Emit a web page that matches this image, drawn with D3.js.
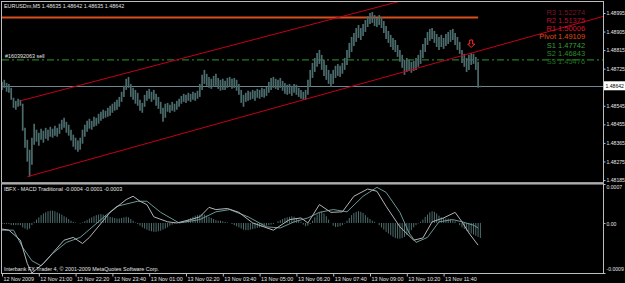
<!DOCTYPE html>
<html>
<head>
<meta charset="utf-8">
<script src="https://cdn.jsdelivr.net/npm/d3@7"></script>
<style>
body { margin: 0; background: #000; }
svg { display: block; }
</style>
</head>
<body>
<div id="chart"></div>
<script>
// price bars (M5), highs and lows
var barHigh = [1.48661,1.48671,1.48656,1.48651,1.48632,1.48584,1.48569,1.48579,1.48574,1.48555,
1.48438,1.48380,1.48332,1.48390,1.48458,1.48429,1.48414,1.48434,1.48424,1.48438,
1.48429,1.48443,1.48434,1.48448,1.48438,1.48458,1.48477,1.48487,1.48467,1.48453,
1.48429,1.48405,1.48390,1.48376,1.48390,1.48429,1.48453,1.48472,1.48482,1.48472,
1.48492,1.48487,1.48506,1.48516,1.48526,1.48521,1.48535,1.48545,1.48555,1.48564,
1.48574,1.48588,1.48613,1.48642,1.48676,1.48685,1.48651,1.48632,1.48622,1.48608,
1.48574,1.48559,1.48598,1.48618,1.48627,1.48613,1.48622,1.48603,1.48588,1.48564,
1.48535,1.48555,1.48559,1.48550,1.48564,1.48555,1.48569,1.48579,1.48593,1.48603,
1.48598,1.48608,1.48603,1.48613,1.48608,1.48618,1.48651,1.48695,1.48719,1.48700,
1.48685,1.48676,1.48690,1.48700,1.48680,1.48671,1.48676,1.48666,1.48680,1.48685,
1.48676,1.48680,1.48671,1.48651,1.48622,1.48598,1.48608,1.48618,1.48613,1.48622,
1.48618,1.48627,1.48622,1.48632,1.48627,1.48637,1.48661,1.48680,1.48685,1.48676,
1.48671,1.48680,1.48666,1.48656,1.48647,1.48651,1.48642,1.48651,1.48647,1.48632,
1.48622,1.48613,1.48622,1.48671,1.48719,1.48753,1.48777,1.48801,1.48816,1.48792,
1.48768,1.48743,1.48719,1.48700,1.48719,1.48739,1.48748,1.48739,1.48753,1.48777,
1.48816,1.48850,1.48879,1.48898,1.48922,1.48937,1.48922,1.48942,1.48961,1.48980,
1.48995,1.49000,1.48985,1.48971,1.48985,1.48976,1.48956,1.48932,1.48908,1.48889,
1.48874,1.48864,1.48840,1.48816,1.48792,1.48768,1.48777,1.48768,1.48758,1.48763,
1.48777,1.48792,1.48816,1.48845,1.48874,1.48903,1.48918,1.48922,1.48908,1.48893,
1.48879,1.48889,1.48874,1.48893,1.48903,1.48913,1.48918,1.48898,1.48879,1.48855,
1.48816,1.48797,1.48777,1.48792,1.48801,1.48797,1.48782,1.48758,1.48642];

var barLow = [1.48622,1.48632,1.48613,1.48608,1.48574,1.48535,1.48526,1.48540,1.48545,1.48424,
1.48342,1.48274,1.48201,1.48259,1.48356,1.48371,1.48351,1.48380,1.48366,1.48385,
1.48376,1.48395,1.48390,1.48400,1.48395,1.48409,1.48429,1.48438,1.48414,1.48400,
1.48376,1.48346,1.48332,1.48322,1.48332,1.48361,1.48395,1.48419,1.48434,1.48429,
1.48443,1.48448,1.48458,1.48472,1.48482,1.48487,1.48492,1.48497,1.48511,1.48521,
1.48526,1.48540,1.48564,1.48588,1.48622,1.48632,1.48588,1.48574,1.48555,1.48545,
1.48521,1.48511,1.48540,1.48569,1.48579,1.48564,1.48574,1.48545,1.48530,1.48506,
1.48467,1.48487,1.48516,1.48511,1.48521,1.48516,1.48526,1.48540,1.48555,1.48564,
1.48559,1.48569,1.48564,1.48574,1.48569,1.48579,1.48588,1.48622,1.48651,1.48642,
1.48632,1.48627,1.48637,1.48642,1.48627,1.48618,1.48622,1.48622,1.48632,1.48637,
1.48627,1.48632,1.48618,1.48598,1.48559,1.48540,1.48564,1.48569,1.48574,1.48579,
1.48569,1.48584,1.48579,1.48588,1.48584,1.48593,1.48608,1.48622,1.48632,1.48627,
1.48622,1.48632,1.48618,1.48603,1.48598,1.48603,1.48593,1.48608,1.48598,1.48588,
1.48579,1.48574,1.48574,1.48598,1.48637,1.48680,1.48709,1.48734,1.48748,1.48719,
1.48690,1.48671,1.48651,1.48637,1.48651,1.48680,1.48690,1.48685,1.48700,1.48719,
1.48743,1.48777,1.48806,1.48835,1.48855,1.48874,1.48864,1.48884,1.48903,1.48927,
1.48942,1.48947,1.48932,1.48927,1.48937,1.48922,1.48898,1.48869,1.48850,1.48830,
1.48816,1.48806,1.48782,1.48758,1.48729,1.48695,1.48709,1.48714,1.48705,1.48714,
1.48719,1.48734,1.48748,1.48777,1.48806,1.48840,1.48860,1.48869,1.48850,1.48830,
1.48816,1.48830,1.48821,1.48835,1.48845,1.48855,1.48864,1.48840,1.48816,1.48797,
1.48753,1.48734,1.48709,1.48719,1.48743,1.48748,1.48719,1.48632,1.48635];

// MACD histogram, one value per bar
var macdHist = [-0.00002,-0.00002,-0.00002,-0.00002,-0.00004,-0.00004,-0.00004,-0.00004,-0.00004,
-0.00008,-0.00010,-0.00012,-0.00010,-0.00004,0.00002,
0.00006,0.00010,0.00014,0.00017,0.00019,0.00021,0.00022,0.00022,0.00021,0.00019,0.00017,0.00015,0.00012,0.00010,
0.00007,0.00004,0.00002,0.00001,0.00000,-0.00001,0.00001,0.00003,0.00005,
0.00008,0.00010,0.00012,0.00014,0.00015,0.00016,0.00015,0.00014,0.00013,0.00011,
0.00010,0.00009,0.00008,0.00008,0.00009,0.00010,0.00011,0.00010,0.00007,0.00004,
0.00001,-0.00002,-0.00005,
-0.00008,-0.00010,-0.00012,-0.00014,-0.00015,-0.00016,-0.00016,-0.00015,-0.00014,-0.00012,-0.00010,-0.00008,-0.00005,-0.00003,
-0.00001,0.00000,0.00001,0.00002,0.00003,0.00005,
0.00007,0.00009,0.00011,0.00013,0.00014,0.00015,0.00016,0.00015,0.00013,0.00011,0.00009,0.00007,
0.00005,0.00004,0.00004,0.00003,0.00002,0.00001,0.00000,-0.00002,
-0.00004,-0.00006,-0.00008,-0.00010,-0.00012,-0.00013,-0.00013,-0.00012,-0.00011,-0.00010,
-0.00009,-0.00008,-0.00007,-0.00006,-0.00005,-0.00004,-0.00003,-0.00002,0.00000,
0.00003,0.00005,0.00007,0.00009,0.00010,0.00011,0.00012,0.00011,0.00009,0.00006,0.00002,-0.00003,
-0.00006,-0.00005,-0.00002,
0.00004,0.00010,0.00015,0.00019,0.00020,0.00017,0.00012,0.00006,
0.00000,-0.00005,-0.00007,-0.00007,-0.00006,-0.00004,-0.00001,
0.00004,0.00009,0.00014,0.00018,0.00020,0.00021,0.00020,0.00018,0.00014,
0.00010,0.00007,0.00004,0.00002,0.00000,
-0.00004,-0.00008,-0.00012,-0.00016,-0.00019,-0.00022,-0.00025,-0.00027,-0.00028,-0.00028,-0.00027,-0.00025,-0.00022,-0.00018,-0.00013,-0.00008,
-0.00004,-0.00001,0.00002,
0.00006,0.00011,0.00015,0.00019,0.00021,0.00020,0.00017,0.00013,
0.00010,0.00009,0.00008,0.00008,0.00007,0.00005,0.00003,
0.00000,-0.00004,-0.00008,-0.00011,-0.00014,-0.00017,-0.00019,-0.00021,-0.00023,-0.00025,-0.00027];

// MACD main and signal lines [bar, value]
var macdMain = [[0,-0.00011],[3,-0.00013],[8,-0.00031],[11,-0.00073],[13,-0.00090],[18,-0.00073],
[27,-0.00031],[31,-0.00026],[35,-0.00037],[38,-0.00026],[47,0.00019],[54,0.00042],[57,0.00048],
[60,0.00039],[63,0.00033],[66,0.00011],[72,0.00002],[76,0.00000],[82,0.00006],[86,0.00011],
[90,0.00028],[93,0.00024],[98,0.00026],[103,0.00019],[109,0.00000],[118,-0.00013],[125,0.00006],
[130,0.00009],[133,0.00000],[138,0.00033],[143,0.00019],[148,0.00020],[153,0.00048],[159,0.00061],
[163,0.00057],[167,0.00030],[173,-0.00007],[179,-0.00031],[183,-0.00027],[187,0.00002],[192,0.00009],
[197,0.00019],[200,0.00002],[203,-0.00018],[207,-0.00040]];

var macdSignal = [[0,-0.00013],[5,-0.00013],[9,-0.00044],[13,-0.00068],[17,-0.00077],[22,-0.00055],
[28,-0.00035],[34,-0.00026],[43,0.00006],[50,0.00030],[59,0.00039],[63,0.00039],[69,0.00019],
[77,0.00000],[86,0.00006],[93,0.00020],[99,0.00024],[107,0.00011],[115,-0.00007],[121,-0.00009],
[127,0.00002],[133,0.00009],[138,0.00019],[144,0.00024],[150,0.00020],[157,0.00048],[163,0.00064],
[167,0.00055],[173,0.00019],[177,-0.00018],[180,-0.00035],[185,-0.00026],[190,0.00002],[196,0.00006],
[200,0.00002],[205,-0.00004],[207,-0.00009]];

// trend lines [bar, price]
var upperLine = [[8, 1.48569], [170, 1.49043]];
var lowerLine = [[11, 1.48201], [200, 1.48788]];
var levelLine = [[0, 1.48973], [207, 1.48973]];
var orderPrice = 1.48768;
var lastPrice = 1.48642;
var arrowPoint = [204, 1.48830];

// axis labels
var priceTicks = [1.48995, 1.48905, 1.48815, 1.48725, 1.48545, 1.48455, 1.48365, 1.48275, 1.48185];
var macdTicks = [0.0007, 0, -0.0009];
var timeBars = [0, 16, 32, 48, 64, 80, 96, 112, 128, 144, 160, 176, 192];
var timeLabels = ["12 Nov 2009", "12 Nov 21:00", "12 Nov 22:20", "12 Nov 23:40", "13 Nov 01:00",
  "13 Nov 02:20", "13 Nov 03:40", "13 Nov 05:00", "13 Nov 06:20", "13 Nov 07:40",
  "13 Nov 09:00", "13 Nov 10:20", "13 Nov 11:40"];

// pivot panel
var pivotNames = ["R3", "R2", "R1", "Pivot", "S1", "S2", "S3"];
var pivotValues = ["1.52274", "1.51375", "1.50006", "1.49109", "1.47742", "1.46843", "1.45476"];
var pivotColors = ["#7a1424", "#b4142c", "#d8142a", "#e04a12", "#3c9c3c", "#2e8a2e", "#1f6e1f"];

var font = "'Liberation Sans', Arial, sans-serif";
var textColor = "#e4e4e4";

var svg = d3.select("#chart")
  .append("svg")
  .attr("width", 625)
  .attr("height", 283)
  .style("background", "#000");

// scales
var x = d3.scaleLinear().domain([0, 208]).range([2, 480.4]);
var y = d3.scaleLinear().domain([1.48185, 1.48995]).range([180, 13]);
var ym = d3.scaleLinear().domain([-0.0009, 0.0007]).range([273, 184]);

var defs = svg.append("defs");
defs.append("clipPath").attr("id", "clipMain")
  .append("rect").attr("x", 2).attr("y", 2).attr("width", 601).attr("height", 180);
defs.append("clipPath").attr("id", "clipSub")
  .append("rect").attr("x", 2).attr("y", 184).attr("width", 601).attr("height", 89);

var main = svg.append("g").attr("clip-path", "url(#clipMain)");

// horizontal lines
main.append("line")
  .attr("x1", 2).attr("x2", 603)
  .attr("y1", y(orderPrice)).attr("y2", y(orderPrice))
  .attr("stroke", "#237d23")
  .attr("stroke-width", 1.2)
  .attr("stroke-dasharray", "7,3,2,3");

main.append("line")
  .attr("x1", 2).attr("x2", 603)
  .attr("y1", Math.round(y(lastPrice)) + 0.5).attr("y2", Math.round(y(lastPrice)) + 0.5)
  .attr("stroke", "#6f8795")
  .attr("stroke-width", 1);

var line = d3.line()
  .x(function (d) { return x(d[0]); })
  .y(function (d) { return y(d[1]); });

main.append("path")
  .datum([[x.invert(2), levelLine[0][1]], levelLine[1]])
  .attr("fill", "none")
  .attr("stroke", "#d9501c")
  .attr("stroke-width", 2)
  .attr("d", line);

// bars
main.append("g")
  .selectAll("line")
  .data(d3.range(barHigh.length))
  .enter()
  .append("line")
  .attr("x1", function (i) { return x(i); })
  .attr("x2", function (i) { return x(i); })
  .attr("y1", function (i) { return y(barHigh[i]); })
  .attr("y2", function (i) { return y(barLow[i]); })
  .attr("stroke", "#4b6b6c")
  .attr("stroke-width", 1.7);

// channel rays extended to the right edge
function ray(pts) {
  var a = pts[0], b = pts[1];
  var iEnd = x.invert(603);
  var p = a[1] + (b[1] - a[1]) * (iEnd - a[0]) / (b[0] - a[0]);
  return [a, [iEnd, p]];
}
[upperLine, lowerLine].forEach(function (pts) {
  main.append("path")
    .datum(ray(pts))
    .attr("fill", "none")
    .attr("stroke", "#c4001a")
    .attr("stroke-width", 1)
    .attr("d", line);
});

// sell arrow
main.append("path")
  .attr("transform", "translate(" + x(arrowPoint[0]) + "," + y(arrowPoint[1]) + ")")
  .attr("d", "M-1.5,-7H1.5V-3H3.5L0,0.5L-3.5,-3H-1.5Z")
  .attr("fill", "none")
  .attr("stroke", "#ff2a2a")
  .attr("stroke-width", 1);

// order label and title
svg.append("text")
  .attr("x", 5).attr("y", y(orderPrice) - 2)
  .style("font", "5.4px " + font).style("fill", textColor)
  .text("#160392063 sell");

svg.append("text")
  .attr("x", 4).attr("y", 8)
  .style("font", "5.4px " + font).style("fill", textColor)
  .text("EURUSDm,M5  1.48635 1.48642 1.48635 1.48642");

// pivot labels
var piv = svg.append("g");
pivotNames.forEach(function (n, i) {
  var ty = 14.5 + i * 8.3;
  piv.append("text")
    .attr("x", 556).attr("y", ty)
    .attr("text-anchor", "end")
    .style("font", "7.5px " + font).style("fill", pivotColors[i])
    .text(n);
  piv.append("text")
    .attr("x", 558).attr("y", ty)
    .style("font", "7.5px " + font).style("fill", pivotColors[i])
    .text(pivotValues[i]);
});

// MACD window
var subG = svg.append("g").attr("clip-path", "url(#clipSub)");
subG.append("g")
  .selectAll("line")
  .data(macdHist)
  .enter()
  .append("line")
  .attr("x1", function (d, i) { return x(i); })
  .attr("x2", function (d, i) { return x(i); })
  .attr("y1", ym(0))
  .attr("y2", function (d) { return ym(d); })
  .attr("stroke", "#4e6e6e")
  .attr("stroke-width", 1);

var mline = d3.line()
  .x(function (d) { return x(d[0]); })
  .y(function (d) { return ym(d[1]); });

subG.append("path").datum(macdSignal)
  .attr("fill", "none").attr("stroke", "#6a9898").attr("stroke-width", 1)
  .attr("d", mline);
subG.append("path").datum(macdMain)
  .attr("fill", "none").attr("stroke", "#b4b4b4").attr("stroke-width", 1)
  .attr("d", mline);

svg.append("text")
  .attr("x", 4).attr("y", 191)
  .style("font", "5.4px " + font).style("fill", textColor)
  .text("IBFX - MACD Traditional -0.0004 -0.0001 -0.0003");

svg.append("text")
  .attr("x", 4).attr("y", 270.5)
  .style("font", "5.4px " + font).style("fill", textColor)
  .text("Interbank FX Trader 4, \u00a9 2001-2009 MetaQuotes Software Corp.");

// borders
var border = "#bdbdbd";
svg.append("rect")
  .attr("x", 1.5).attr("y", 1.5).attr("width", 602).attr("height", 181)
  .attr("fill", "none").attr("stroke", border);
svg.append("rect")
  .attr("x", 1).attr("y", 182).attr("width", 603).attr("height", 2)
  .attr("fill", "#9a9a9a");
svg.append("rect")
  .attr("x", 1.5).attr("y", 184).attr("width", 602).attr("height", 89.5)
  .attr("fill", "none").attr("stroke", border);

// price axis
var pa = svg.append("g")
  .attr("transform", "translate(603.5,0)")
  .call(d3.axisRight(y).tickValues(priceTicks).tickSize(2).tickPadding(1)
    .tickFormat(d3.format(".5f")));
pa.select(".domain").remove();
pa.selectAll("line").attr("stroke", border);
pa.selectAll("text").style("font", "5.1px " + font).style("fill", textColor);

// current price box
svg.append("rect")
  .attr("x", 604).attr("y", y(lastPrice) - 4.5)
  .attr("width", 21).attr("height", 9)
  .attr("fill", "#ffffff");
svg.append("text")
  .attr("x", 605.5).attr("y", y(lastPrice) + 2)
  .style("font", "5.1px " + font).style("fill", "#000")
  .text(d3.format(".5f")(lastPrice));

// MACD axis
var ma = svg.append("g")
  .attr("transform", "translate(603.5,0)")
  .call(d3.axisRight(ym).tickValues(macdTicks).tickSize(2).tickPadding(1)
    .tickFormat(function (d) { return d === 0 ? "0.00" : d.toFixed(4); }));
ma.select(".domain").remove();
ma.selectAll("line").attr("stroke", border);
ma.selectAll("text")
  .style("font", "5.1px " + font).style("fill", textColor)
  .attr("y", function (d) { return d > 0 ? 3 : (d < 0 ? -4 : 1); });

// time axis
var ta = svg.append("g")
  .attr("transform", "translate(0,273.5)")
  .call(d3.axisBottom(x).tickValues(timeBars).tickSize(3)
    .tickFormat(function (d, i) { return timeLabels[i]; }));
ta.select(".domain").remove();
ta.selectAll("line").attr("stroke", border);
ta.selectAll("text")
  .attr("text-anchor", "start")
  .attr("x", 1)
  .attr("y", 4)
  .style("font", "5.4px " + font).style("fill", textColor);
</script>
</body>
</html>
